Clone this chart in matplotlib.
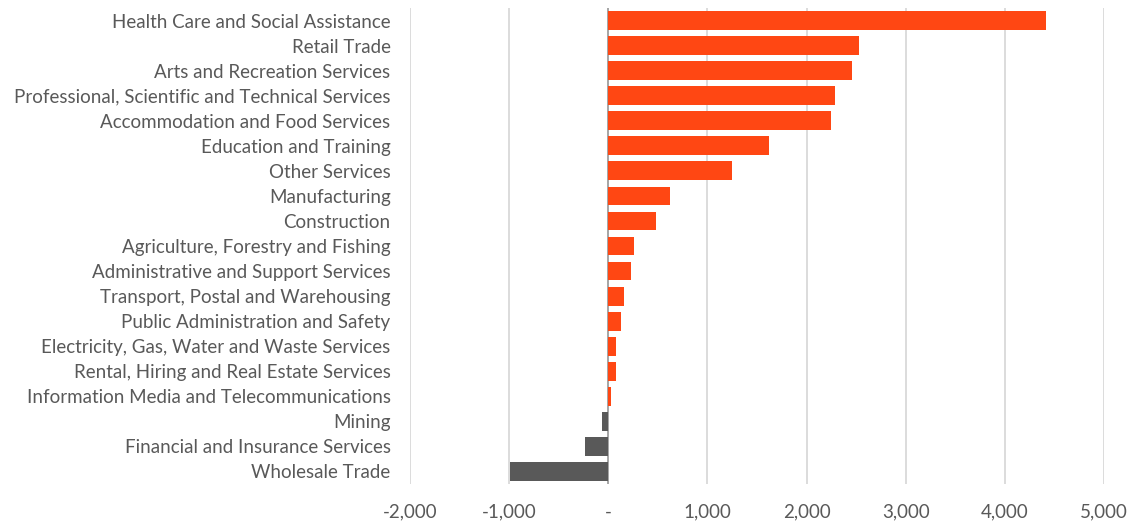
import matplotlib
matplotlib.use("Agg")
import matplotlib.pyplot as plt
from matplotlib.ticker import FuncFormatter

industries = [
    "Health Care and Social Assistance",
    "Retail Trade",
    "Arts and Recreation Services",
    "Professional, Scientific and Technical Services",
    "Accommodation and Food Services",
    "Education and Training",
    "Other Services",
    "Manufacturing",
    "Construction",
    "Agriculture, Forestry and Fishing",
    "Administrative and Support Services",
    "Transport, Postal and Warehousing",
    "Public Administration and Safety",
    "Electricity, Gas, Water and Waste Services",
    "Rental, Hiring and Real Estate Services",
    "Information Media and Telecommunications",
    "Mining",
    "Financial and Insurance Services",
    "Wholesale Trade",
]
change = [4420, 2530, 2460, 2290, 2245, 1620, 1250, 625, 485, 255, 225,
          160, 130, 75, 75, 25, -60, -230, -995]

pos_color = "#FF4713"
neg_color = "#595959"
text_color = "#595959"

plt.rcParams["font.family"] = ["Lato", "DejaVu Sans"]

fig = plt.figure(figsize=(11.33, 5.25), dpi=100)
ax = fig.add_axes([410 / 1133, 41 / 525, (1104 - 410) / 1133, (484 - 8) / 525])

y = list(range(len(industries)))
colors = [pos_color if v >= 0 else neg_color for v in change]
ax.barh(y, change, height=0.75, color=colors, zorder=3)

ax.set_xlim(-2000, 5000)
ax.set_ylim(len(industries) - 0.5, -0.5)
ax.set_xticks(range(-2000, 5001, 1000))
ax.xaxis.set_major_formatter(FuncFormatter(lambda v, _: "-" if v == 0 else f"{int(v):,}"))
ax.set_yticks(y)
ax.set_yticklabels(industries)

ax.grid(axis="x", color="#d9d9d9", linewidth=1.3, zorder=0)
ax.axvline(0, color="#a6a6a6", linewidth=1.4, zorder=2)
for s in ax.spines.values():
    s.set_visible(False)
ax.tick_params(axis="both", length=0, labelsize=13.5, colors=text_color)
ax.tick_params(axis="y", pad=14)
ax.tick_params(axis="x", pad=14)

fig.savefig("out.png", dpi=100)
